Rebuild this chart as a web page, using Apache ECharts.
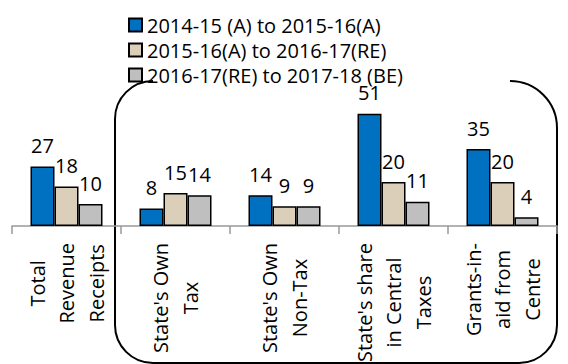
<!DOCTYPE html>
<html>
<head>
<meta charset="utf-8">
<script src="https://cdn.jsdelivr.net/npm/echarts@6/dist/echarts.min.js"></script>
<style>
  html, body { margin: 0; padding: 0; background: #fff; }
  #chart { width: 568px; height: 364px; }
</style>
</head>
<body>
<div id="chart"></div>
<script>
// Revenue receipt categories (line breaks are part of the axis labels)
const categories = [
  'Total\nRevenue\nReceipts',
  "State's Own\nTax",
  "State's Own\nNon-Tax",
  "State's share\nin Central\nTaxes",
  'Grants-in-\naid from\nCentre'
];

// Growth rates (%) for each period
const seriesNames = [
  '2014-15 (A) to 2015-16(A)',
  '2015-16(A) to 2016-17(RE)',
  '2016-17(RE) to 2017-18 (BE)'
];
const growth1415to1516 = [27, 8, 14, 51, 35];
const growth1516to1617 = [18, 15, 9, 20, 20];
const growth1617to1718 = [10, 14, 9, 11, 4];

const FONT = 'Open Sans';
const LABEL_SIZE = 20;
const colors = ['#0070C0', '#DCCFBA', '#BFBFBF'];
const seriesData = [growth1415to1516, growth1516to1617, growth1617to1718];

const chart = echarts.init(document.getElementById('chart'), null, { renderer: 'svg' });

chart.setOption({
  animation: false,
  backgroundColor: '#fff',
  textStyle: { fontFamily: FONT },
  legend: {
    orient: 'vertical',
    left: 128,
    top: 15,
    padding: 0,
    itemWidth: 13,
    itemHeight: 13,
    itemGap: 5,
    icon: 'rect',
    textStyle: { fontFamily: FONT, fontSize: LABEL_SIZE, lineHeight: 20, color: '#000' },
    data: seriesNames
  },
  grid: { left: 12, right: 11, top: 94, bottom: 138, containLabel: false, outerBoundsMode: 'none' },
  xAxis: {
    type: 'category',
    data: categories,
    boundaryGap: true,
    axisLine: { lineStyle: { color: '#999', width: 1.5 } },
    axisTick: { show: true, alignWithLabel: false, length: 8, lineStyle: { color: '#999', width: 1.5 } },
    axisLabel: {
      interval: 0,
      rotate: 90,
      margin: 17,
      hideOverlap: false,
      color: '#000',
      fontFamily: FONT,
      fontSize: LABEL_SIZE,
      lineHeight: 29.5,
      // each line centred within the label block; the block ends just below the axis
      formatter: v => v.split('\n').map(s => '{c|' + s + '}').join('\n'),
      rich: {
        c: { align: 'center', fontFamily: FONT, fontSize: LABEL_SIZE, lineHeight: 29.5, color: '#000' }
      }
    }
  },
  yAxis: { type: 'value', min: 0, max: 60, show: false, splitLine: { show: false } },
  series: seriesNames.map((name, i) => ({
    name,
    type: 'bar',
    data: seriesData[i],
    barWidth: 24,
    barGap: '0%',
    itemStyle: { color: colors[i], borderColor: '#000', borderWidth: 1.5 },
    label: {
      show: true,
      position: 'top',
      distance: 11,
      color: '#000',
      fontFamily: FONT,
      fontSize: LABEL_SIZE
    }
  })),
  // Rounded bracket grouping the four component categories; its top edge is left open
  graphic: [
    {
      type: 'rect',
      z: 0,
      shape: { x: 115, y: 81, width: 442, height: 282, r: [38, 47, 38, 38] },
      style: { fill: null, stroke: '#000', lineWidth: 2 }
    },
    {
      type: 'rect',
      z: 0,
      shape: { x: 153, y: 77, width: 357, height: 8 },
      style: { fill: '#fff', stroke: null }
    }
  ]
});
</script>
</body>
</html>
